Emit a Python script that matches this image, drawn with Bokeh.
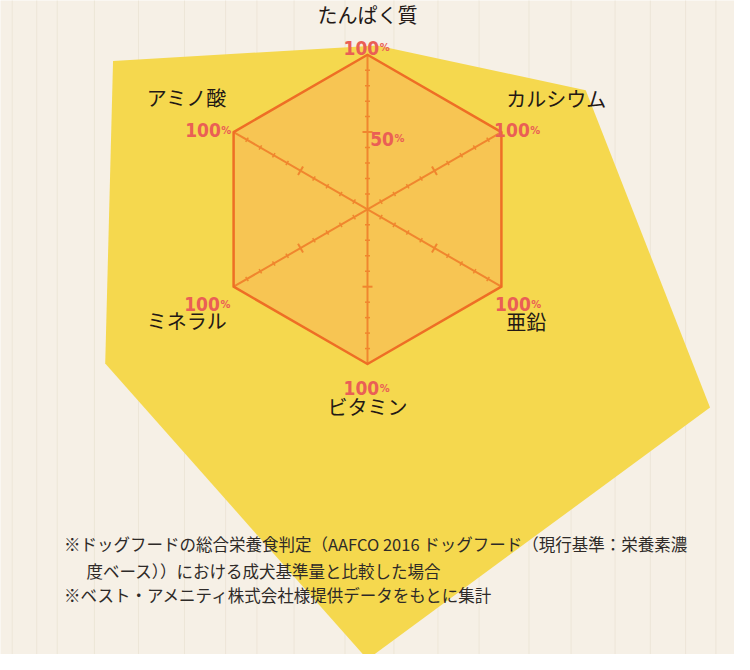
import math
from bokeh.plotting import figure
from bokeh.models import Range1d
from bokeh.core.properties import value
from bokeh.embed import file_html
from bokeh.resources import INLINE

# ---------------- data ----------------
categories = ["たんぱく質", "カルシウム", "亜鉛", "ビタミン", "ミネラル", "アミノ酸"]
values = [100, 100, 100, 100, 100, 100]
value_labels = ["100", "100", "100", "100", "100", "100"]
axis_max = 100
tick_values = [10, 20, 30, 40, 50, 60, 70, 80, 90]
major_tick = 50
notes = [
    "※ドッグフードの総合栄養食判定（AAFCO 2016 ドッグフード（現行基準：栄養素濃",
    "度ベース））における成犬基準量と比較した場合",
    "※ベスト・アメニティ株式会社様提供データをもとに集計",
]

# ---------------- layout ----------------
W, H = 734, 654
SX, SY = W / 750.0, H / 670.0   # reference frame -> figure frame
CX, CY = 375 * SX, 214 * SY     # radar centre in figure pixels
S = 158 * SX / axis_max         # pixels per value unit

def px(X, Y):
    """reference-frame pixel -> data coords"""
    return ((X * SX - CX) / S, (CY - Y * SY) / S)

p = figure(width=W, height=H, output_backend="svg", toolbar_location=None,
           x_axis_type=None, y_axis_type=None,
           x_range=Range1d(-CX / S, (W - CX) / S),
           y_range=Range1d(-(H - CY) / S, CY / S),
           min_border=0)
p.grid.visible = False
p.outline_line_color = None
p.background_fill_color = "#F6F0E6"
p.border_fill_color = "#F6F0E6"

# faint wood grain
grain_x = [12, 37, 58, 96, 141, 188, 230, 262, 300, 352, 402, 447, 489, 540, 583, 628, 664, 700, 731]
gx = [px(g, 0)[0] for g in grain_x]
p.segment(x0=gx, y0=[-400] * len(gx), x1=gx, y1=[300] * len(gx),
          line_color="#E8DFCF", line_width=1, line_alpha=0.6)

# decorative yellow shape
deco_px = [(115, 62), (385, 46), (598, 92), (725, 417), (375, 675), (107, 372)]
dx = [px(a, b)[0] for a, b in deco_px]
dy = [px(a, b)[1] for a, b in deco_px]
p.patch(dx, dy, fill_color="#F5D84E", line_color=None)

# radar geometry
n = len(categories)
angles = [math.radians(90 - 360.0 / n * i) for i in range(n)]
rx = [v * math.cos(a) for v, a in zip(values, angles)]
ry = [v * math.sin(a) for v, a in zip(values, angles)]

p.patch(rx, ry, fill_color="#F7C553", fill_alpha=1.0, line_color=None)

# axes
ax_x1 = [axis_max * math.cos(a) for a in angles]
ax_y1 = [axis_max * math.sin(a) for a in angles]
p.segment(x0=[0] * n, y0=[0] * n, x1=ax_x1, y1=ax_y1,
          line_color="#F0862E", line_width=2)

# ticks
t0x, t0y, t1x, t1y, tw = [], [], [], [], []
for a in angles:
    for t in tick_values:
        half = (5.0 if t == major_tick else 2.5) / S
        bx, by = t * math.cos(a), t * math.sin(a)
        nx, ny = -math.sin(a), math.cos(a)
        t0x.append(bx - nx * half); t0y.append(by - ny * half)
        t1x.append(bx + nx * half); t1y.append(by + ny * half)
        tw.append(2 if t == major_tick else 1.5)
p.segment(x0=t0x, y0=t0y, x1=t1x, y1=t1y, line_color="#F0862E", line_width=tw)

# outline
p.patch(rx, ry, fill_color=None, line_color="#EE6E25", line_width=2.5, line_join="round")

# value labels "100" + small "%"
num_font = value("Liberation Sans Narrow, DejaVu Sans Condensed, sans-serif")
lab_off = [(12, -7), (29, -2), (30, 18), (12, 25), (-14, 18), (-13, -2)]
lab_off = [(a * SX, b * SY) for a, b in lab_off]
p.text(x=rx, y=ry, text=value_labels,
       x_offset=[o[0] for o in lab_off], y_offset=[o[1] for o in lab_off],
       text_font=num_font, text_font_style="bold", text_font_size="19px",
       text_color="#EA5F55", text_align="right", text_baseline="alphabetic")
p.text(x=rx, y=ry, text=["%"] * n,
       x_offset=[o[0] + 0.5 for o in lab_off], y_offset=[o[1] for o in lab_off],
       text_font=num_font, text_font_style="bold", text_font_size="11px",
       text_color="#EA5F55", text_align="left", text_baseline="alphabetic")

# 50% label on first axis
mx, my = major_tick * math.cos(angles[0]), major_tick * math.sin(angles[0])
p.text(x=[mx], y=[my], text=[str(major_tick)], x_offset=[27 * SX], y_offset=[7 * SY],
       text_font=num_font, text_font_style="bold", text_font_size="19px",
       text_color="#EA5F55", text_align="right", text_baseline="alphabetic")
p.text(x=[mx], y=[my], text=["%"], x_offset=[27 * SX + 0.5], y_offset=[7 * SY],
       text_font=num_font, text_font_style="bold", text_font_size="11px",
       text_color="#EA5F55", text_align="left", text_baseline="alphabetic")

# category labels
cat_off = [(0, -41), (5, -34), (5, 36), (0, 44), (-7, 35), (-7, -35)]
cat_align = ["center", "left", "left", "center", "right", "right"]
for i in range(n):
    p.text(x=[rx[i]], y=[ry[i]], text=[categories[i]],
           x_offset=[cat_off[i][0] * SX], y_offset=[cat_off[i][1] * SY],
           text_font=value("Noto Sans CJK JP"), text_font_size="20px",
           text_color="#231815", text_align=cat_align[i], text_baseline="middle")

# footnotes
note_pos = [(65, 557), (88, 584), (65, 609)]
for t, (X, Y) in zip(notes, note_pos):
    nx_, ny_ = px(X, Y)
    p.text(x=[nx_], y=[ny_], text=[t],
           text_font=value("Noto Sans CJK JP"), text_font_size="16.5px",
           text_color="#2E2A28", text_align="left", text_baseline="middle")

open("out.html", "w").write(file_html(p, INLINE))
